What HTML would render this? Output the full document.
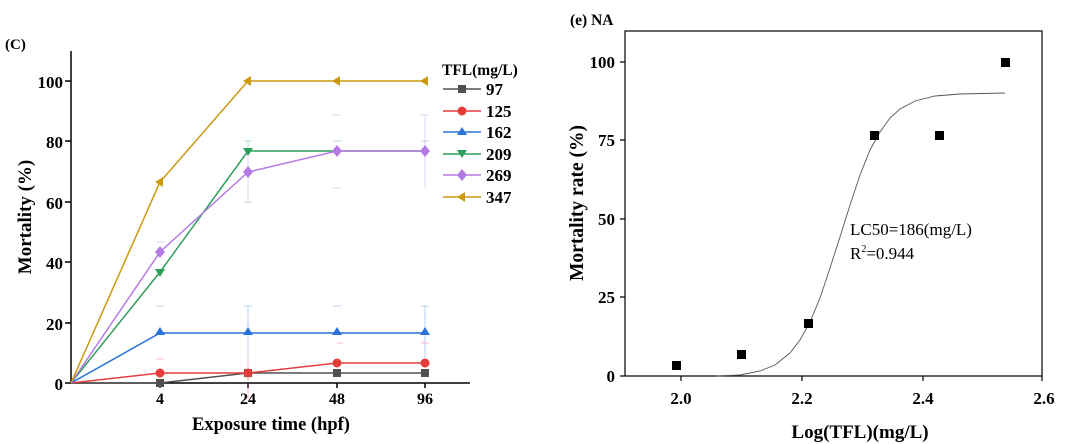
<!DOCTYPE html>
<html><head><meta charset="utf-8"><style>
body{margin:0;background:#fff}
svg{display:block}
text{font-family:"Liberation Serif",serif}
.b{font-weight:bold}
</style></head><body>
<svg width="1080" height="444" viewBox="0 0 1080 444" xmlns="http://www.w3.org/2000/svg">
<!-- Left chart -->
<text x="5" y="49" class="b" font-size="15">(C)</text>
<g stroke="#000" stroke-width="1.5" fill="none">
<path d="M71,51 V383 H470"/>
<path d="M71,81 h-6 M71,141 h-6 M71,202 h-6 M71,262 h-6 M71,323 h-6 M71,383 h-6"/>
<path d="M160,383 v5 M248,383 v5 M337,383 v5 M425,383 v5"/>
</g>
<g font-size="17" class="b" text-anchor="end">
<text x="63" y="88">100</text><text x="63" y="148">80</text><text x="63" y="209">60</text>
<text x="63" y="269">40</text><text x="63" y="330">20</text><text x="63" y="390">0</text>
</g>
<g font-size="16" class="b" text-anchor="middle">
<text x="160" y="404">4</text><text x="248" y="404">24</text><text x="337" y="404">48</text><text x="425" y="404">96</text>
</g>
<text x="271" y="430" font-size="18.5" class="b" text-anchor="middle">Exposure time (hpf)</text>
<text transform="translate(31,217) rotate(-90)" font-size="19" class="b" text-anchor="middle">Mortality (%)</text>
<!-- error bars -->
<g stroke-width="1" opacity="0.35">
<path stroke="#3a7fd8" d="M248,306 V358 M425,306 V358 M244,306h8M421,306h8M156,306h8M333,306h8"/>
<path stroke="#e04040" d="M337,343h6M421,343h8M248,358V398 M156,359h8"/>
<path stroke="#b070e0" d="M248,141V202 M425,115V188 M244,202h8M421,115h8M333,115h8M333,188h8M156,242h8"/>
<path stroke="#30a060" d="M248,141V151 M244,141h8M333,141h8M421,141h8"/>
</g>
<g fill="none" stroke-width="1.5">
<polyline stroke="#505050" points="71,383 160,383 248,373 337,373 425,373"/>
<polyline stroke="#e53c3c" points="71,383 160,373 248,373 337,363 425,363"/>
<polyline stroke="#2a73d9" points="71,383 160,333 248,333 337,333 425,333"/>
<polyline stroke="#2e9e5b" points="71,383 160,272 248,151 337,151 425,151"/>
<polyline stroke="#b57ae3" points="71,383 160,252 248,172 337,151 425,151"/>
<polyline stroke="#cc9a10" points="71,383 160,182 248,81 337,81 425,81"/>
</g>
<g fill="#505050"><rect x="156" y="379" width="8" height="8"/><rect x="244" y="369" width="8" height="8"/><rect x="333" y="369" width="8" height="8"/><rect x="421" y="369" width="8" height="8"/></g>
<g fill="#e53c3c"><circle cx="160" cy="373" r="4.5"/><circle cx="248" cy="373" r="4.5"/><circle cx="337" cy="363" r="4.5"/><circle cx="425" cy="363" r="4.5"/></g>
<g fill="#2a73d9"><path d="M160,327l5,8h-10z M248,327l5,8h-10z M337,327l5,8h-10z M425,327l5,8h-10z"/></g>
<g fill="#2e9e5b"><path d="M160,277l5,-8h-10z"/><path d="M248,156l5,-8h-10z"/></g>
<g fill="#b57ae3"><path d="M160,246l5,6-5,6-5-6z M248,166l5,6-5,6-5-6z M337,145l5,6-5,6-5-6z M425,145l5,6-5,6-5-6z"/></g>
<g fill="#cc9a10"><path d="M155,182l8,-5v10z M243,81l8,-5v10z M332,81l8,-5v10z M420,81l8,-5v10z"/></g>
<!-- legend -->
<text x="442" y="75" font-size="15.5" class="b">TFL(mg/L)</text>
<g stroke-width="1.5">
<line x1="443" y1="89" x2="481" y2="89" stroke="#505050"/><rect x="458" y="85" width="8" height="8" fill="#505050"/>
<line x1="443" y1="111" x2="481" y2="111" stroke="#e53c3c"/><circle cx="462" cy="111" r="4.5" fill="#e53c3c"/>
<line x1="443" y1="132" x2="481" y2="132" stroke="#2a73d9"/><path d="M462,127l5,8h-10z" fill="#2a73d9"/>
<line x1="443" y1="154" x2="481" y2="154" stroke="#2e9e5b"/><path d="M462,158l5,-8h-10z" fill="#2e9e5b"/>
<line x1="443" y1="175" x2="481" y2="175" stroke="#b57ae3"/><path d="M462,169l5,6-5,6-5-6z" fill="#b57ae3"/>
<line x1="443" y1="197" x2="481" y2="197" stroke="#cc9a10"/><path d="M457,197l8,-5v10z" fill="#cc9a10"/>
</g>
<g font-size="17" class="b">
<text x="486" y="95">97</text><text x="486" y="117">125</text><text x="486" y="138">162</text>
<text x="486" y="160">209</text><text x="486" y="181">269</text><text x="486" y="203">347</text>
</g>
<!-- Right chart -->
<text x="570" y="25" font-size="15.5" class="b">(e) NA</text>
<rect x="625" y="31" width="417" height="345" fill="none" stroke="#000" stroke-width="1.2"/>
<g stroke="#000" stroke-width="1.2">
<path d="M625,62h-5 M625,140h-5 M625,219h-5 M625,297h-5 M625,376h-5"/>
<path d="M681,376v5 M802,376v5 M923,376v5 M1042,376v5"/>
</g>
<g font-size="17" class="b" text-anchor="end">
<text x="615" y="68">100</text><text x="615" y="146">75</text><text x="615" y="225">50</text>
<text x="615" y="303">25</text><text x="615" y="382">0</text>
</g>
<g font-size="17" class="b" text-anchor="middle">
<text x="681" y="404">2.0</text><text x="802" y="404">2.2</text><text x="923" y="404">2.4</text><text x="1044" y="404">2.6</text>
</g>
<text x="860" y="438" font-size="19" class="b" text-anchor="middle">Log(TFL)(mg/L)</text>
<text transform="translate(583,203) rotate(-90)" font-size="19.5" class="b" text-anchor="middle">Mortality rate (%)</text>
<path fill="none" stroke="#555" stroke-width="0.9" d="M717,376 L740,375 L760,371 L775,365 L790,353 L800,340 L810,322 L820,298 L830,268 L840,237 L850,205 L860,175 L870,150 L880,132 L890,118 L900,109 L915,101 L935,96 L960,94 L1005,93"/>
<g fill="#000">
<rect x="672" y="361" width="9" height="9"/><rect x="737" y="350" width="9" height="9"/>
<rect x="804" y="319" width="9" height="9"/><rect x="870" y="131" width="9" height="9"/>
<rect x="935" y="131" width="9" height="9"/><rect x="1001" y="58" width="9" height="9"/>
</g>
<text x="850" y="235" font-size="17">LC50=186(mg/L)</text>
<text x="850" y="259" font-size="17">R<tspan font-size="10" dy="-7">2</tspan><tspan dy="7">=0.944</tspan></text>
</svg>
</body></html>
